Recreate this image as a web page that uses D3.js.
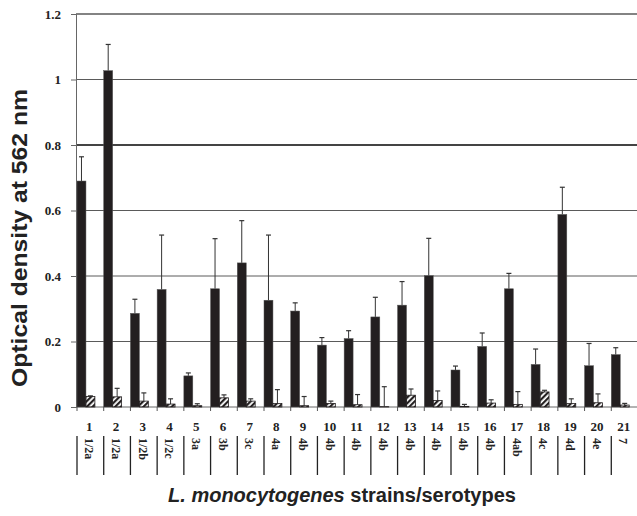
<!DOCTYPE html>
<html>
<head>
<meta charset="utf-8">
<script src="https://cdn.jsdelivr.net/npm/d3@7"></script>
<style>
  body { margin: 0; background: #fff; }
  svg { display: block; }
</style>
</head>
<body>
<div id="chart"></div>
<script>
// data
const strains = ['1', '2', '3', '4', '5', '6', '7', '8', '9', '10', '11', '12', '13', '14', '15', '16', '17', '18', '19', '20', '21'];
const serotypes = ['1/2a', '1/2a', '1/2b', '1/2c', '3a', '3b', '3c', '4a', '4b', '4b', '4b', '4b', '4b', '4b', '4b', '4b', '4ab', '4c', '4d', '4e', '7'];
const solidMean = [0.69, 1.027, 0.286, 0.359, 0.095, 0.361, 0.44, 0.326, 0.293, 0.189, 0.209, 0.275, 0.311, 0.401, 0.113, 0.185, 0.361, 0.130, 0.588, 0.126, 0.160];
const solidErr = [0.074, 0.080, 0.043, 0.166, 0.009, 0.153, 0.129, 0.199, 0.025, 0.023, 0.024, 0.060, 0.072, 0.114, 0.012, 0.041, 0.047, 0.047, 0.083, 0.068, 0.021];
const hatchMean = [0.032, 0.031, 0.018, 0.009, 0.004, 0.028, 0.018, 0.011, 0.004, 0.011, 0.007, 0.001, 0.036, 0.020, 0.002, 0.012, 0.008, 0.046, 0.011, 0.013, 0.006];
const hatchErr = [0.002, 0.026, 0.025, 0.016, 0.006, 0.009, 0.007, 0.042, 0.028, 0.007, 0.031, 0.061, 0.019, 0.029, 0.006, 0.010, 0.039, 0.005, 0.014, 0.027, 0.005];
const yTicks = [0, 0.2, 0.4, 0.6, 0.8, 1, 1.2];

const width = 637;
const height = 516;
const margin = {top: 14, right: 0, bottom: 109, left: 76};

const svg = d3.select('#chart')
  .append('svg')
  .attr('width', width)
  .attr('height', height);

// hatch pattern for the second series
const defs = svg.append('defs');
defs.append('pattern')
  .attr('id', 'hatch')
  .attr('patternUnits', 'userSpaceOnUse')
  .attr('width', 4)
  .attr('height', 4)
  .attr('patternTransform', 'rotate(45)')
  .append('rect')
  .attr('x', 0)
  .attr('y', 0)
  .attr('width', 2.2)
  .attr('height', 4)
  .attr('fill', '#231f20');

const x = d3.scaleBand()
  .domain(strains)
  .range([margin.left, width - margin.right])
  .padding(0);

const y = d3.scaleLinear()
  .domain([0, 1.2])
  .range([height - margin.bottom, margin.top]);

const bw = x.bandwidth() * 0.335;
const off = 1;

// gridlines
svg.append('g')
  .selectAll('line')
  .data(yTicks.filter(d => d > 0))
  .enter()
  .append('line')
  .attr('x1', margin.left)
  .attr('x2', width - margin.right)
  .attr('y1', d => y(d))
  .attr('y2', d => y(d))
  .attr('stroke', d => d === 0.8 ? '#444' : '#5a5a5a')
  .attr('stroke-width', d => d === 0.8 ? 2 : (d === 1.2 ? 1.5 : 1));

// y axis
const yAxis = svg.append('g')
  .attr('transform', 'translate(' + margin.left + ',0)')
  .call(d3.axisLeft(y).tickValues(yTicks).tickSize(5).tickPadding(10).tickFormat(d3.format('')));
yAxis.select('.domain').attr('stroke', '#666');
yAxis.selectAll('.tick line').attr('stroke', '#666');
yAxis.selectAll('.tick text')
  .attr('font-family', '"Liberation Serif", "Times New Roman", serif')
  .attr('font-weight', 'bold')
  .attr('font-size', 13)
  .attr('fill', '#222');

// x axis (ticks at category boundaries)
const xAxisG = svg.append('g');
xAxisG.append('line')
  .attr('x1', margin.left)
  .attr('x2', width - margin.right)
  .attr('y1', y(0))
  .attr('y2', y(0))
  .attr('stroke', '#666');
xAxisG.selectAll('.xt')
  .data(strains)
  .enter()
  .append('line')
  .attr('x1', d => x(d) + off)
  .attr('x2', d => x(d) + off)
  .attr('y1', y(0))
  .attr('y2', y(0) + 4)
  .attr('stroke', '#555');

// error bars
function errBars(cls, mean, err, dx) {
  const g = svg.append('g').attr('class', cls);
  const data = strains.map((s, i) => ({s: s, v: mean[i], e: err[i]}));
  g.selectAll('line.v')
    .data(data)
    .enter()
    .append('line')
    .attr('class', 'v')
    .attr('x1', d => x(d.s) + dx)
    .attr('x2', d => x(d.s) + dx)
    .attr('y1', d => y(d.v))
    .attr('y2', d => y(d.v + d.e))
    .attr('stroke', '#333')
    .attr('stroke-width', 1);
  g.selectAll('line.c')
    .data(data)
    .enter()
    .append('line')
    .attr('class', 'c')
    .attr('x1', d => x(d.s) + dx - 2.5)
    .attr('x2', d => x(d.s) + dx + 2.5)
    .attr('y1', d => y(d.v + d.e))
    .attr('y2', d => y(d.v + d.e))
    .attr('stroke', '#333')
    .attr('stroke-width', 1.2);
}

errBars('err-solid', solidMean, solidErr, off + bw / 2);
errBars('err-hatch', hatchMean, hatchErr, off + bw * 1.5);

// solid bars
svg.append('g')
  .selectAll('rect')
  .data(strains.map((s, i) => ({s: s, v: solidMean[i]})))
  .enter()
  .append('rect')
  .attr('x', d => x(d.s) + off)
  .attr('y', d => y(d.v))
  .attr('width', bw)
  .attr('height', d => y(0) - y(d.v))
  .attr('fill', '#231f20')
  .attr('stroke', '#555')
  .attr('stroke-width', 0.5);

// hatched bars
svg.append('g')
  .selectAll('rect')
  .data(strains.map((s, i) => ({s: s, v: hatchMean[i]})))
  .enter()
  .append('rect')
  .attr('x', d => x(d.s) + off + bw)
  .attr('y', d => y(d.v))
  .attr('width', bw)
  .attr('height', d => y(0) - y(d.v))
  .attr('fill', 'url(#hatch)')
  .attr('stroke', '#231f20')
  .attr('stroke-width', 0.8);

// strain numbers
svg.append('g')
  .selectAll('text')
  .data(strains)
  .enter()
  .append('text')
  .attr('x', d => x(d) + x.bandwidth() / 2)
  .attr('y', 431)
  .attr('text-anchor', 'middle')
  .attr('font-family', '"Liberation Serif", "Times New Roman", serif')
  .attr('font-weight', 'bold')
  .attr('font-size', 13)
  .attr('fill', '#222')
  .text(d => d);

// separators of the serotype row
svg.append('g')
  .selectAll('line')
  .data(strains)
  .enter()
  .append('line')
  .attr('x1', d => x(d) + off)
  .attr('x2', d => x(d) + off)
  .attr('y1', 436)
  .attr('y2', 475)
  .attr('stroke', '#222')
  .attr('stroke-width', 1.3);

// serotype labels, turned clockwise
svg.append('g')
  .selectAll('text')
  .data(strains.map((s, i) => ({s: s, t: serotypes[i]})))
  .enter()
  .append('text')
  .attr('transform', d => 'translate(' + (x(d.s) + x.bandwidth() / 2) + ',438) rotate(90)')
  .attr('dy', '0.35em')
  .attr('font-family', '"Liberation Serif", "Times New Roman", serif')
  .attr('font-weight', 'bold')
  .attr('font-size', 12)
  .attr('fill', '#222')
  .text(d => d.t);

// axis titles
svg.append('text')
  .attr('transform', 'translate(27,238) rotate(-90)')
  .attr('text-anchor', 'middle')
  .attr('font-family', '"Liberation Sans", Arial, sans-serif')
  .attr('font-weight', 'bold')
  .attr('font-size', 22)
  .attr('textLength', 298)
  .attr('lengthAdjust', 'spacingAndGlyphs')
  .attr('fill', '#222')
  .text('Optical density at 562 nm');

const xt = svg.append('text')
  .attr('x', 342)
  .attr('y', 502)
  .attr('text-anchor', 'middle')
  .attr('font-family', '"Liberation Sans", Arial, sans-serif')
  .attr('font-weight', 'bold')
  .attr('font-size', 20)
  .attr('fill', '#222');
xt.append('tspan').attr('font-style', 'italic').text('L. monocytogenes');
xt.append('tspan').text(' strains/serotypes');
</script>
</body>
</html>
